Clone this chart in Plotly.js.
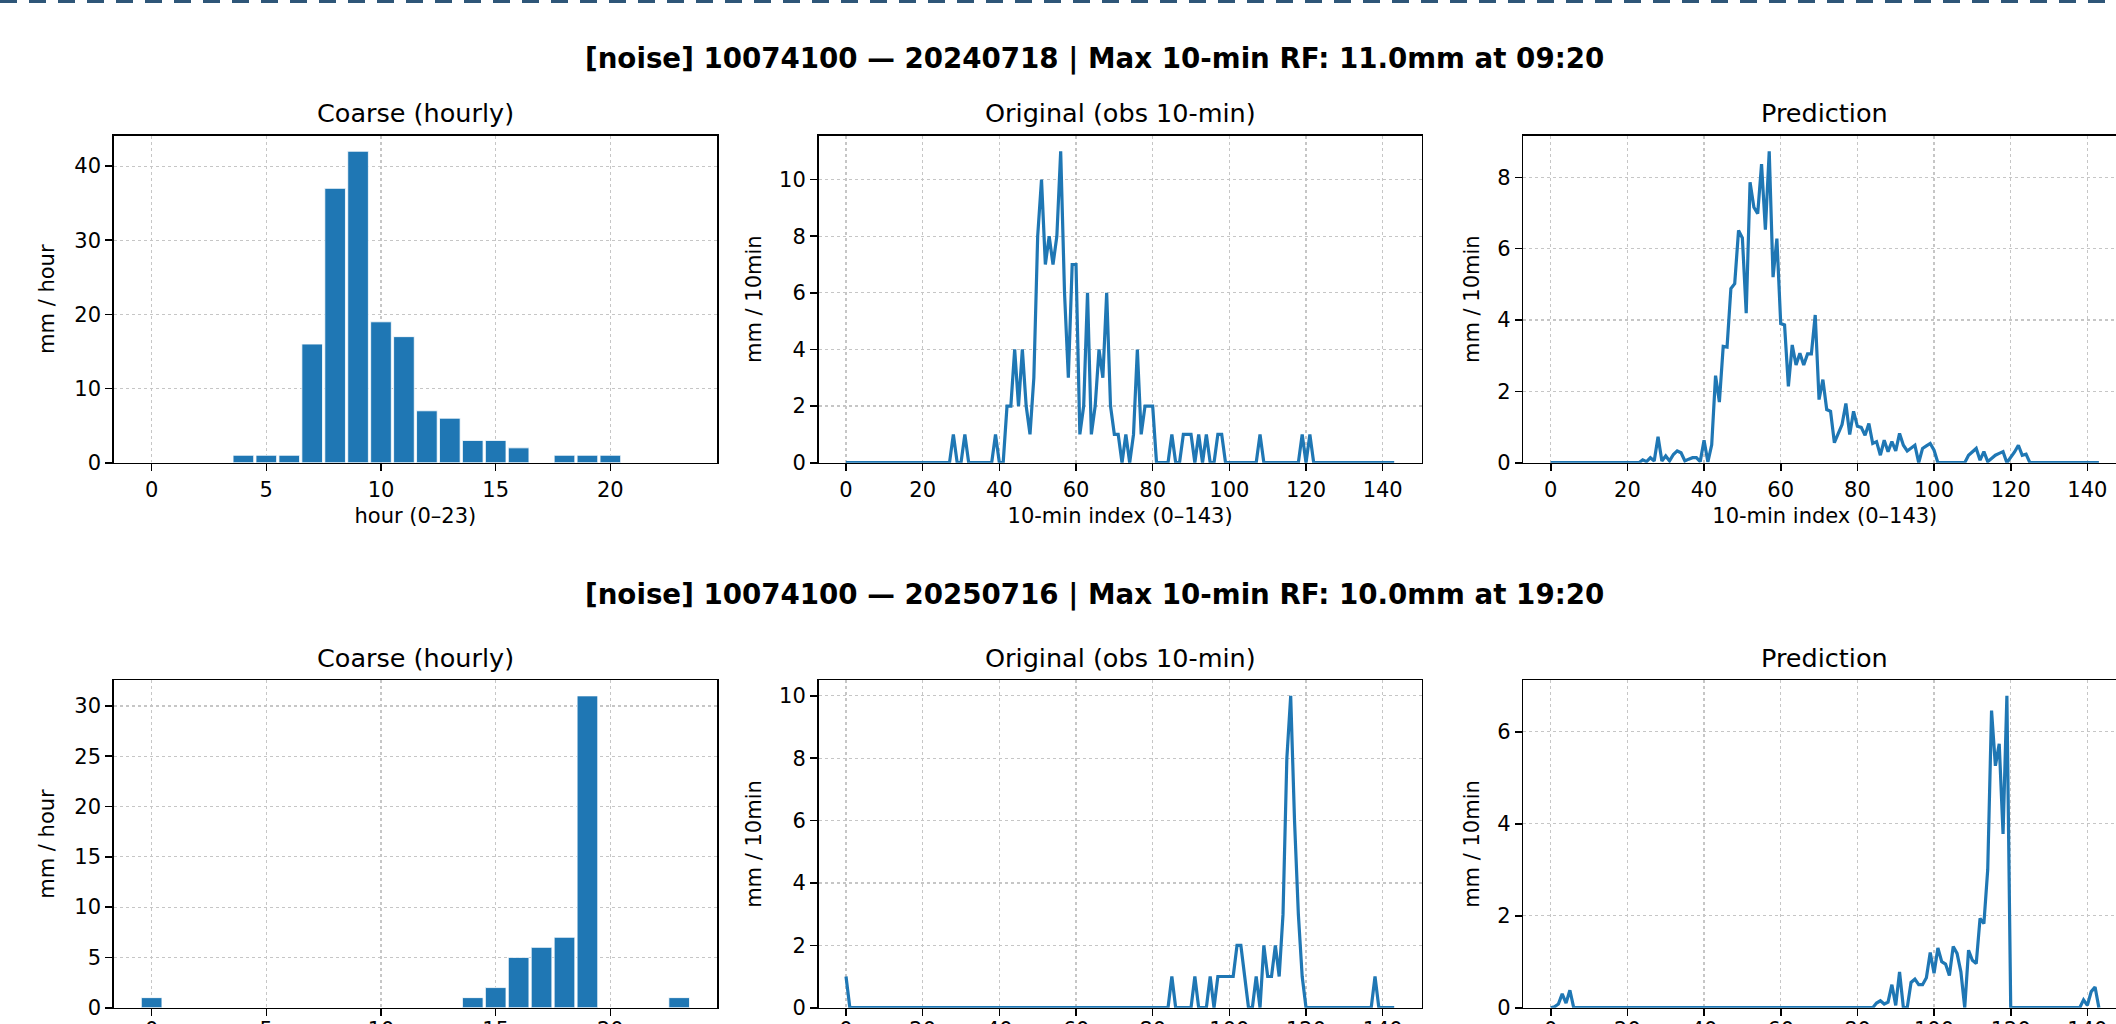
<!DOCTYPE html>
<html>
<head>
<meta charset="utf-8">
<script src="https://cdn.plot.ly/plotly-3.0.1.min.js"></script>
<style>
html,body{margin:0;padding:0;background:#fff;overflow:hidden;width:2116px;height:1024px;}
#wrap{position:relative;width:2116px;height:1024px;overflow:hidden;background:#fff;}
#topline{position:absolute;left:0;top:0;width:2116px;height:3px;background:repeating-linear-gradient(to right,#2e5678 0 17px,transparent 17px 29px);z-index:2;}
#chart{position:absolute;left:0;top:0;width:2188px;height:1100px;}
</style>
</head>
<body>
<div id="wrap"><div id="topline"></div><div id="chart"></div></div>
<script>
// ---------- data ----------
const hours = [0,1,2,3,4,5,6,7,8,9,10,11,12,13,14,15,16,17,18,19,20,21,22,23];

const suptitle1 = "[noise] 10074100 — 20240718 | Max 10-min RF: 11.0mm at 09:20";
const suptitle2 = "[noise] 10074100 — 20250716 | Max 10-min RF: 10.0mm at 19:20";
const panelTitles = ["Coarse (hourly)", "Original (obs 10-min)", "Prediction"];

// event 1 (20240718)
const coarse1 = [0,0,0,0,1,1,1,16,37,42,19,17,7,6,3,3,2,0,1,1,1,0,0,0];
const obs1 = [
  0,0,0,0,0,0,0,0,0,0,0,0,
  0,0,0,0,0,0,0,0,0,0,0,0,
  0,0,0,0,1,0,0,1,0,0,0,0,
  0,0,0,1,0,0,2,2,4,2,4,2,
  1,3,8,10,7,8,7,8,11,6,3,7,
  7,1,2,6,1,2,4,3,6,2,1,1,
  0,1,0,1,4,1,2,2,2,0,0,0,
  0,1,0,0,1,1,1,0,1,0,1,0,
  0,1,1,0,0,0,0,0,0,0,0,0,
  1,0,0,0,0,0,0,0,0,0,0,1,
  0,1,0,0,0,0,0,0,0,0,0,0,
  0,0,0,0,0,0,0,0,0,0,0,0
];
const pred1 = [
  0,0,0,0,0,0,0,0,0,0,0,0,
  0,0,0,0,0,0,0,0,0,0,0,0,
  0.08,0.03,0.14,0.05,0.73,0.05,0.19,0.05,0.23,0.33,0.28,0.05,
  0.1,0.14,0.14,0.03,0.63,0.02,0.5,2.44,1.7,3.26,3.24,4.88,
  5.02,6.51,6.3,4.19,7.86,7.16,6.98,8.37,6.53,8.73,5.2,6.28,
  3.9,3.86,2.14,3.3,2.74,3.07,2.74,3.05,3.05,4.14,1.77,2.33,
  1.49,1.44,0.56,0.84,1.07,1.66,0.79,1.44,1.02,0.99,0.77,1.1,
  0.54,0.59,0.21,0.63,0.31,0.59,0.33,0.82,0.49,0.33,0.4,0.49,
  0,0.4,0.47,0.54,0.35,0,0,0,0,0,0,0,
  0,0.21,0.3,0.4,0.07,0.31,0.03,0.12,0.21,0.26,0.31,0,
  0.15,0.3,0.49,0.21,0.24,0,0,0,0,0,0,0,
  0,0,0,0,0,0,0,0,0,0,0,0
];

// event 2 (20250716)
const coarse2 = [1,0,0,0,0,0,0,0,0,0,0,0,0,0,1,2,5,6,7,31,0,0,0,1];
const obs2 = [
  1,0,0,0,0,0,0,0,0,0,0,0,
  0,0,0,0,0,0,0,0,0,0,0,0,
  0,0,0,0,0,0,0,0,0,0,0,0,
  0,0,0,0,0,0,0,0,0,0,0,0,
  0,0,0,0,0,0,0,0,0,0,0,0,
  0,0,0,0,0,0,0,0,0,0,0,0,
  0,0,0,0,0,0,0,0,0,0,0,0,
  0,1,0,0,0,0,0,1,0,0,0,1,
  0,1,1,1,1,1,2,2,1,0,0,1,
  0,2,1,1,2,1,3,8,10,6,3,1,
  0,0,0,0,0,0,0,0,0,0,0,0,
  0,0,0,0,0,0,1,0,0,0,0,0
];
const pred2 = [
  0,0.02,0.08,0.3,0.1,0.38,0,0,0,0,0,0,
  0,0,0,0,0,0,0,0,0,0,0,0,
  0,0,0,0,0,0,0,0,0,0,0,0,
  0,0,0,0,0,0,0,0,0,0,0,0,
  0,0,0,0,0,0,0,0,0,0,0,0,
  0,0,0,0,0,0,0,0,0,0,0,0,
  0,0,0,0,0,0,0,0,0,0,0,0,
  0,0.1,0.15,0.08,0.12,0.5,0.05,0.78,0,0,0.55,0.62,
  0.5,0.5,0.65,1.2,0.75,1.3,1.0,0.95,0.7,1.33,1.18,0.78,
  0,1.25,1.03,0.96,1.94,1.83,3.0,6.46,5.26,5.74,3.78,6.78,
  0,0,0,0,0,0,0,0,0,0,0,0,
  0,0,0,0,0,0,0,0.17,0.05,0.35,0.45,0
];
const idx = obs1.map((_, i) => i); // 10-min index 0..143

// ---------- layout geometry (px) ----------
const W = 2188, H = 1100;
const cols = [[113.9, 716.9], [818.6, 1421.6], [1523.3, 2126.3]];
const rows = [[135.7, 462.7], [680.3, 1007.7]];
const dx = c => [c[0] / W, c[1] / W];
const dy = r => [1 - r[1] / H, 1 - r[0] / H];

const BLUE = '#1f77b4';
const FONT = 'DejaVu Sans';
const axBase = {
  showline: true, mirror: true, linecolor: '#000', linewidth: 1.6,
  ticks: 'outside', ticklen: 7, tickwidth: 1.6, tickcolor: '#000',
  showgrid: true, gridcolor: '#c6c6c6', griddash: 'dot', gridwidth: 1.2,
  zeroline: false, fixedrange: true,
  tickfont: {family: FONT, size: 21, color: '#000'}
};

const data = [];
const layout = {
  width: W, height: H, margin: {l: 0, r: 0, t: 0, b: 0},
  paper_bgcolor: '#fff', plot_bgcolor: '#fff', showlegend: false,
  font: {family: FONT, color: '#000'},
  annotations: []
};

const events = [
  {coarse: coarse1, obs: obs1, pred: pred1, title: suptitle1},
  {coarse: coarse2, obs: obs2, pred: pred2, title: suptitle2}
];

events.forEach((ev, r) => {
  const series = [ev.coarse, ev.obs, ev.pred];
  const lblShift = r === 0 ? 0 : -5;
  for (let c = 0; c < 3; c++) {
    const n = r * 3 + c + 1;
    const xk = 'xaxis' + (n === 1 ? '' : n), yk = 'yaxis' + (n === 1 ? '' : n);
    const xr = 'x' + (n === 1 ? '' : n), yr = 'y' + (n === 1 ? '' : n);
    const vals = series[c];
    const vmax = Math.max(...vals);
    if (c === 0) {
      data.push({type: 'bar', x: hours, y: vals, xaxis: xr, yaxis: yr, width: 0.9,
        marker: {color: BLUE, line: {color: '#fff', width: 0.8}}, hoverinfo: 'x+y'});
      layout[xk] = Object.assign({}, axBase, {domain: dx(cols[c]), anchor: yr,
        range: [-1.645, 24.645], tick0: 0, dtick: 5, ticklabelstandoff: lblShift,
        title: {text: 'hour (0–23)', font: {family: FONT, size: 21, color: '#000'}, standoff: 8}});
      layout[yk] = Object.assign({}, axBase, {domain: dy(rows[r]), anchor: xr,
        range: [0, vmax * 1.05], tick0: 0, dtick: vmax > 35 ? 10 : 5,
        title: {text: 'mm / hour', font: {family: FONT, size: 21, color: '#000'}, standoff: 14}});
    } else {
      data.push({type: 'scatter', mode: 'lines', x: idx, y: vals, xaxis: xr, yaxis: yr,
        line: {color: BLUE, width: 3.2}, hoverinfo: 'x+y'});
      layout[xk] = Object.assign({}, axBase, {domain: dx(cols[c]), anchor: yr,
        range: [-7.15, 150.15], tick0: 0, dtick: 20, ticklabelstandoff: lblShift,
        title: {text: '10-min index (0–143)', font: {family: FONT, size: 21, color: '#000'}, standoff: 8}});
      layout[yk] = Object.assign({}, axBase, {domain: dy(rows[r]), anchor: xr,
        range: [0, vmax * 1.05], tick0: 0, dtick: 2,
        title: {text: 'mm / 10min', font: {family: FONT, size: 21, color: '#000'}, standoff: 12}});
    }
    layout.annotations.push({
      text: panelTitles[c], xref: 'paper', yref: 'paper',
      x: (cols[c][0] + cols[c][1]) / 2 / W, y: 1 - (rows[r][0] - 22.5) / H,
      xanchor: 'center', yanchor: 'middle', showarrow: false,
      font: {family: FONT, size: 25.5, color: '#000'}
    });
  }
  layout.annotations.push({
    text: '<b>' + ev.title + '</b>', xref: 'paper', yref: 'paper',
    x: 1094 / W, y: 1 - (r === 0 ? 58 : 594) / H,
    xanchor: 'center', yanchor: 'middle', showarrow: false,
    font: {family: FONT, size: 27.7, color: '#000'}
  });
});

Plotly.newPlot('chart', data, layout, {staticPlot: true, displayModeBar: false});
</script>
</body>
</html>
